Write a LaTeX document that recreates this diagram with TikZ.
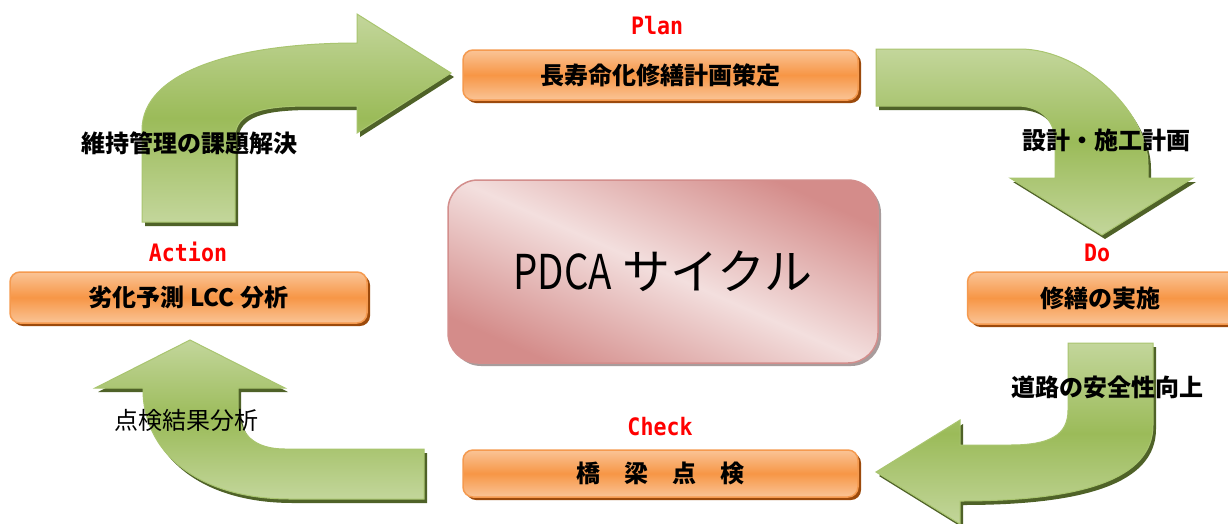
\documentclass[tikz,border=0pt]{standalone}
\usepackage{fontspec}
\usepackage{graphicx}
\usetikzlibrary{shadows}
\newfontfamily\jp{Noto Sans CJK JP}
\newfontfamily\monofnt{DejaVu Sans Mono}
\definecolor{gLight}{HTML}{C3D69B}
\definecolor{gDark}{HTML}{9BBB59}
\definecolor{gEdge}{HTML}{A9C56F}
\definecolor{gShadow}{HTML}{4F6228}
\definecolor{oLight}{HTML}{FAC496}
\definecolor{oMid}{HTML}{F79646}
\definecolor{oEdge}{HTML}{F59A4F}
\definecolor{oShadow}{HTML}{9C4A0C}
\definecolor{pLight}{HTML}{F3DFDE}
\definecolor{pDark}{HTML}{D48C8A}
\definecolor{pEdge}{HTML}{D38E8C}
\definecolor{pShadow}{HTML}{A89C9C}
\definecolor{lblRed}{HTML}{FF0000}
\def\pathTL{(142,222) -- (142,130) .. controls (142,70) and (240,43) .. (357,43) -- (357,14) -- (451,73) -- (357,133) -- (357,106) -- (310,106) .. controls (262,106) and (235,112) .. (235,138) -- (235,222) -- cycle}
\def\pathTR{(876,49) -- (1020,49) .. controls (1080,49) and (1148,110) .. (1148,165) -- (1148,178) -- (1193,178) -- (1102,235) -- (1010,178) -- (1055,178) -- (1055,142) .. controls (1055,120) and (1040,106) .. (1017,106) -- (876,106) -- cycle}
\def\pathBR{(1068,343) -- (1153,343) -- (1153,425) .. controls (1153,480) and (1080,501) .. (960,501) -- (960,524) -- (876,472) -- (960,420) -- (960,445) -- (1010,445) .. controls (1050,445) and (1068,435) .. (1068,410) -- cycle}
\def\pathBL{(424,449) -- (424,499) -- (290,499) .. controls (195,499) and (143,450) .. (143,390) -- (143,388) -- (95,388) -- (190,340) -- (285,388) -- (238,388) -- (238,405) .. controls (238,435) and (255,449) .. (285,449) -- cycle}
\begin{document}
\begin{tikzpicture}[x=1pt,y=-1pt,
  obox/.style={rounded corners=10pt, draw=oEdge, line width=1.5pt,
    top color=oLight, bottom color=oLight, middle color=oMid,
    font=\jp\bfseries\fontsize{24}{28}\selectfont, text=black,
    drop shadow={shadow xshift=3pt, shadow yshift=-3pt, fill=oShadow, opacity=1},
    inner sep=0pt},
  pinkbox/.style={rounded corners=30pt, draw=pEdge, line width=1.5pt,
    top color=pDark, bottom color=pDark, middle color=pLight, shading angle=-24,
    drop shadow={shadow xshift=3pt, shadow yshift=-3pt, fill=pShadow, opacity=1},
    inner sep=0pt, font=\jp\fontsize{48}{54}\selectfont, text=black},
  lbl/.style={text=lblRed, font=\monofnt\bfseries\fontsize{24}{28}\selectfont, inner sep=0pt},
  atext/.style={text=black, font=\jp\bfseries\fontsize{24}{28}\selectfont, inner sep=0pt},
  arrowfill/.style={top color=gLight, bottom color=gLight, middle color=gDark, draw=gEdge, line width=1pt},
  arrowshadow/.style={fill=gShadow}
]
\useasboundingbox (0,0) rectangle (1228,523);
\clip (0,0) rectangle (1228,523);
\fill[white] (0,0) rectangle (1228,523);
% arrows
\fill[arrowshadow, shift={(3,4)}] \pathTL;
\path[arrowfill] \pathTL;
\fill[arrowshadow, shift={(3,4)}] \pathTR;
\path[arrowfill] \pathTR;
\fill[arrowshadow, shift={(3,4)}] \pathBR;
\path[arrowfill] \pathBR;
\fill[arrowshadow, shift={(3,4)}] \pathBL;
\path[arrowfill] \pathBL;
% boxes
\node[obox, minimum width=395pt, minimum height=50pt] (plan) at (660.5,75) {長寿命化修繕計画策定};
\node[obox, minimum width=275pt, minimum height=52pt] (do) at (1105,298) {\hspace*{-10pt}修繕の実施};
\node[obox, minimum width=395pt, minimum height=47pt] (check) at (660.5,473.5) {橋　梁　点　検};
\node[obox, minimum width=357pt, minimum height=51pt] (action) at (188.5,297.5) {劣化予測 LCC 分析};
\node[pinkbox, minimum width=430pt, minimum height=183pt] (pdca) at (663,271.5) {\scalebox{0.8}[1]{PDCA} サイクル};
% labels
\node[lbl] (planlbl) at (657,26) {\scalebox{0.9}[1]{Plan}};
\node[lbl] (dolbl) at (1097,253) {\scalebox{0.9}[1]{Do}};
\node[lbl] (checklbl) at (660,427) {\scalebox{0.9}[1]{Check}};
\node[lbl] (actionlbl) at (188,252) {\scalebox{0.9}[1]{Action}};
\node[atext] (t1) at (189,143) {維持管理の課題解決};
\node[atext] (t2) at (1106,140) {設計・施工計画};
\node[atext] (t3) at (1107,387) {道路の安全性向上};
\node[atext, font=\jp\fontsize{24}{28}\selectfont] (t4) at (186,420) {点検結果分析};
\end{tikzpicture}
\end{document}
